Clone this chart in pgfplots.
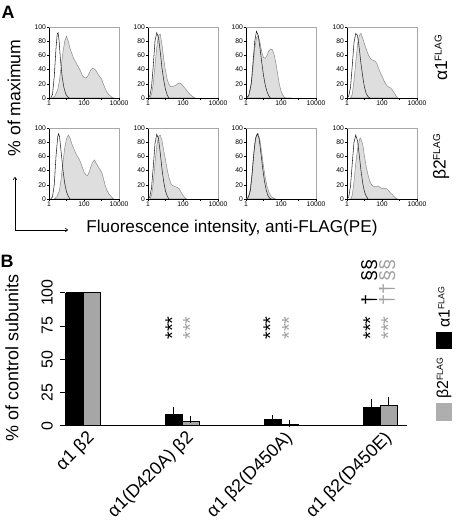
\documentclass[border=0pt]{standalone}
\usepackage{fontspec}
\setmainfont{Liberation Sans}
\usepackage{pgfplots}
\pgfplotsset{compat=1.18}
\usetikzlibrary{arrows.meta}
\definecolor{histfill}{HTML}{DEDEDE}
\definecolor{histedge}{HTML}{8A8A8A}
\definecolor{bargray}{HTML}{A6A6A6}
\definecolor{anngray}{HTML}{A0A0A0}
\definecolor{framegray}{HTML}{A8A8A8}
\definecolor{leggray}{HTML}{AEAEAE}
\newcommand{\sub}[2]{#1{\fontsize{10}{10}\selectfont\raisebox{0.55em}{#2}}}
\newcommand{\subs}[2]{#1{\fontsize{8.8}{9}\selectfont\raisebox{0.6em}{#2}}}
\tikzset{ann/.style={rotate=90, font=\fontsize{20}{22}\selectfont}}
\pgfplotsset{
 hist/.style={anchor=south west, scale only axis, width=70bp, height=71bp,
  xmin=0, xmax=4, ymin=0, ymax=100,
  axis x line*=bottom, axis y line*=left, axis line style={black, line width=0.5pt},
  xtick={0,1,2,3,4}, xticklabels={1,,100,,10000}, ytick={0,20,40,60,80,100},
  tick align=outside, major tick length=2bp, tick style={black, line width=0.4pt},
  tick label style={font=\fontsize{6.8}{7.5}\selectfont, inner sep=1pt},
  /pgf/number format/assume math mode=true,
  extra description/.code={\draw[framegray, line width=0.5pt] (0,1) -- (1,1) -- (1,0);},
 },
 gfill/.style={fill=histfill, draw=histedge, line width=0.5pt},
 ctrl/.style={draw=black!85, line width=0.55pt},
 errs/.style={error bars/.cd, y dir=plus, y explicit,
   error bar style={black, line width=0.9pt},
   error mark options={black, line width=0.9pt, mark size=3.5bp}},
}
\begin{document}
\begin{tikzpicture}
\path[use as bounding box] (0,0) rectangle (456bp,524bp);
% ---------- Panel A, row 1 ----------
\begin{axis}[hist, at={(49bp,426bp)}]
\addplot[gfill] coordinates {(0.2,0)(0.35,3)(0.5,12)(0.6,25)(0.7,45)(0.8,65)(0.9,80)(1.0,87)(1.1,80)(1.2,70)(1.3,63)(1.4,56)(1.5,52)(1.6,47)(1.7,43)(1.8,38)(1.9,32)(2.0,29)(2.1,28)(2.2,30)(2.3,35)(2.4,40)(2.5,42)(2.6,41)(2.7,38)(2.8,34)(2.9,30)(3.0,27)(3.1,20)(3.2,14)(3.3,9)(3.4,5)(3.5,3)(3.6,1)(3.7,0)} \closedcycle;
\addplot[ctrl] coordinates {(0.1,0)(0.2,5)(0.3,30)(0.4,70)(0.47,90)(0.52,92)(0.58,80)(0.65,55)(0.75,30)(0.85,15)(0.95,6)(1.05,2)(1.15,0)};
\end{axis}
\begin{axis}[hist, at={(148bp,426bp)}]
\addplot[gfill] coordinates {(0.1,0)(0.2,5)(0.3,20)(0.4,45)(0.5,72)(0.6,88)(0.7,90)(0.8,75)(0.9,55)(1.0,38)(1.1,26)(1.2,19)(1.3,16)(1.4,16)(1.5,17)(1.6,18)(1.7,20)(1.8,21)(1.9,20)(2.0,17)(2.1,14)(2.2,11)(2.3,8)(2.4,5)(2.5,3)(2.6,1)(2.7,0)} \closedcycle;
\addplot[ctrl] coordinates {(0.0,0)(0.1,3)(0.2,15)(0.3,45)(0.4,80)(0.5,92)(0.6,85)(0.7,65)(0.8,42)(0.9,25)(1.0,12)(1.1,4)(1.2,0)};
\end{axis}
\begin{axis}[hist, at={(246bp,426bp)}]
\addplot[gfill] coordinates {(0.05,0)(0.2,5)(0.35,30)(0.5,70)(0.6,85)(0.7,88)(0.8,78)(0.9,65)(1.0,57)(1.1,56)(1.2,60)(1.3,66)(1.4,69)(1.5,68)(1.6,62)(1.7,50)(1.8,35)(1.9,20)(2.0,10)(2.1,4)(2.2,1)(2.3,0)(2.6,0)} \closedcycle;
\addplot[ctrl] coordinates {(0.0,0)(0.15,3)(0.3,20)(0.4,50)(0.5,80)(0.6,94)(0.7,88)(0.8,70)(0.9,50)(1.0,32)(1.1,18)(1.2,9)(1.3,3)(1.4,0)};
\end{axis}
\begin{axis}[hist, at={(347bp,426bp)}]
\addplot[gfill] coordinates {(0.2,0)(0.3,5)(0.4,25)(0.5,50)(0.6,75)(0.7,88)(0.8,91)(0.9,84)(1.0,76)(1.1,69)(1.2,62)(1.3,57)(1.4,54)(1.5,53)(1.6,52)(1.7,49)(1.8,42)(1.9,36)(2.0,31)(2.1,25)(2.2,20)(2.3,17)(2.4,15)(2.5,14)(2.6,11)(2.7,7)(2.8,3)(2.9,0)} \closedcycle;
\addplot[ctrl] coordinates {(0.0,0)(0.1,3)(0.2,15)(0.3,45)(0.4,78)(0.5,91)(0.6,88)(0.7,70)(0.8,48)(0.9,30)(1.0,15)(1.1,6)(1.2,2)(1.3,0)};
\end{axis}
% ---------- Panel A, row 2 ----------
\begin{axis}[hist, at={(49bp,325bp)}]
\addplot[gfill] coordinates {(0.3,0)(0.45,3)(0.6,12)(0.7,30)(0.8,52)(0.9,72)(1.0,85)(1.1,90)(1.2,86)(1.3,78)(1.4,72)(1.5,66)(1.6,61)(1.7,57)(1.8,52)(1.9,45)(2.0,38)(2.1,34)(2.2,33)(2.3,38)(2.4,46)(2.5,52)(2.6,55)(2.7,50)(2.8,46)(2.9,42)(3.0,38)(3.1,30)(3.2,20)(3.3,13)(3.4,8)(3.5,5)(3.6,2)(3.7,0)} \closedcycle;
\addplot[ctrl] coordinates {(0.1,0)(0.2,3)(0.3,20)(0.4,60)(0.5,88)(0.55,92)(0.6,88)(0.7,65)(0.8,40)(0.9,22)(1.0,10)(1.1,4)(1.2,0)};
\end{axis}
\begin{axis}[hist, at={(148bp,325bp)}]
\addplot[gfill] coordinates {(0.1,0)(0.2,5)(0.3,22)(0.4,50)(0.5,75)(0.6,88)(0.7,90)(0.8,82)(0.9,68)(1.0,55)(1.1,41)(1.2,30)(1.3,22)(1.4,19)(1.5,18)(1.6,17)(1.7,16)(1.8,14)(1.9,9)(2.0,5)(2.1,2)(2.2,0)} \closedcycle;
\addplot[ctrl] coordinates {(0.0,0)(0.1,3)(0.2,15)(0.3,45)(0.4,78)(0.5,91)(0.6,85)(0.7,65)(0.8,42)(0.9,24)(1.0,11)(1.1,4)(1.2,0)};
\end{axis}
\begin{axis}[hist, at={(246bp,325bp)}]
\addplot[gfill] coordinates {(0.0,0)(0.1,2)(0.2,8)(0.3,25)(0.4,52)(0.5,78)(0.6,90)(0.7,92)(0.8,82)(0.9,65)(1.0,46)(1.1,30)(1.2,18)(1.3,10)(1.4,5)(1.5,2)(1.6,1)(1.7,0)} \closedcycle;
\addplot[ctrl] coordinates {(0.05,0)(0.15,3)(0.25,12)(0.35,35)(0.45,65)(0.55,86)(0.65,92)(0.75,85)(0.85,65)(0.95,44)(1.05,26)(1.15,13)(1.25,5)(1.35,1)(1.45,0)};
\end{axis}
\begin{axis}[hist, at={(347bp,325bp)}]
\addplot[gfill] coordinates {(0.2,0)(0.3,5)(0.4,25)(0.5,50)(0.6,70)(0.7,82)(0.75,86)(0.8,84)(0.9,77)(1.0,60)(1.1,45)(1.2,34)(1.3,25)(1.4,20)(1.5,18)(1.6,17)(1.7,18)(1.8,18)(1.9,16)(2.0,15)(2.1,15)(2.2,15)(2.3,14)(2.4,11)(2.5,8)(2.6,6)(2.7,3)(2.8,1)(2.9,0)} \closedcycle;
\addplot[ctrl] coordinates {(0.0,0)(0.1,3)(0.2,18)(0.3,50)(0.4,80)(0.5,90)(0.6,82)(0.7,62)(0.8,40)(0.9,22)(1.0,10)(1.1,4)(1.2,0)};
\end{axis}
% ---------- Panel A labels ----------
\node[font=\bfseries\fontsize{18}{20}\selectfont] at (8bp,512bp) {A};
\node[rotate=90, font=\fontsize{17.7}{20}\selectfont] at (14bp,426bp) {\% of maximum};
\node[font=\fontsize{17.2}{20}\selectfont] at (232bp,296bp) {Fluorescence intensity, anti-FLAG(PE)};
\draw[line width=0.6pt, -{To[length=3bp,width=4bp]}] (15bp,294bp) -- (15bp,347bp);
\draw[line width=0.6pt, -{To[length=3bp,width=4bp]}] (15bp,294bp) -- (68bp,294bp);
\node[rotate=90, font=\fontsize{17.5}{20}\selectfont] at (441bp,466bp) {\sub{α1}{FLAG}};
\node[rotate=90, font=\fontsize{17.5}{20}\selectfont] at (441bp,367bp) {\sub{β2}{FLAG}};
% ---------- Panel B ----------
\node[font=\bfseries\fontsize{18}{20}\selectfont] at (7bp,263bp) {B};
\node[rotate=90, font=\fontsize{18}{20}\selectfont] at (12bp,166bp) {\% of control subunits};
\begin{axis}[at={(65bp,98.3bp)}, anchor=south west, scale only axis, width=342bp, height=133bp,
  xmin=-0.182, xmax=3.27, ymin=0, ymax=100, ybar=0pt, bar width=17bp,
  axis x line*=bottom, axis y line*=left, axis line style={black, line width=0.9pt},
  xtick={0,1,2,3}, xticklabels={α1 β2, α1(D420A) β2, α1 β2(D450A), α1 β2(D450E)},
  x tick style={draw=none}, ytick={0,25,50,75,100},
  tick align=outside, major tick length=5bp, y tick style={black, line width=0.9pt},
  yticklabel style={rotate=90, anchor=south, inner ysep=7bp, font=\fontsize{16}{18}\selectfont},
  xticklabel style={rotate=45, anchor=north east, inner sep=1bp, xshift=4bp, font=\fontsize{18}{20}\selectfont},
  /pgf/number format/assume math mode=true, clip=false,
]
\addplot[fill=black, draw=black, line width=0.9pt, bar shift=-8.5bp] coordinates {(0,100)};
\addplot[fill=black, draw=black, line width=0.9pt, bar shift=-8.5bp, errs] coordinates {(1,8.5) +- (0,3.3) (2,5) +- (0,0.5) (3,13.5) +- (0,4)};
\addplot[fill=bargray, draw=black, line width=0.9pt, bar shift=8.5bp] coordinates {(0,100)};
\addplot[fill=bargray, draw=black, line width=0.9pt, bar shift=8.5bp, errs] coordinates {(1,3) +- (0,1.3) (2,1) +- (0,0.3) (3,15.5) +- (0,3.8)};
\node[ann] at (axis cs:0.90,73.5) {***};
\node[ann, text=anngray] at (axis cs:1.08,73.5) {***};
\node[ann] at (axis cs:1.89,73.5) {***};
\node[ann, text=anngray] at (axis cs:2.08,73.5) {***};
\node[ann] at (axis cs:2.90,73.5) {***};
\node[ann, text=anngray] at (axis cs:3.08,73.5) {***};
\node[ann] at (axis cs:2.89,94.5) {†};
\node[ann, text=anngray] at (axis cs:3.07,99) {††};
\node[ann] at (axis cs:2.89,117) {§§};
\node[ann, text=anngray] at (axis cs:3.07,117) {§§};
\end{axis}
% legend
\fill[black] (436bp,175bp) rectangle (452bp,192bp);
\node[rotate=90, anchor=west, inner sep=1bp, font=\fontsize{16}{18}\selectfont] at (444bp,195bp) {\subs{α1}{FLAG}};
\fill[leggray] (436bp,103bp) rectangle (452bp,121bp);
\node[rotate=90, anchor=west, inner sep=1bp, font=\fontsize{16}{18}\selectfont] at (444bp,124bp) {\subs{β2}{FLAG}};
\end{tikzpicture}
\end{document}
